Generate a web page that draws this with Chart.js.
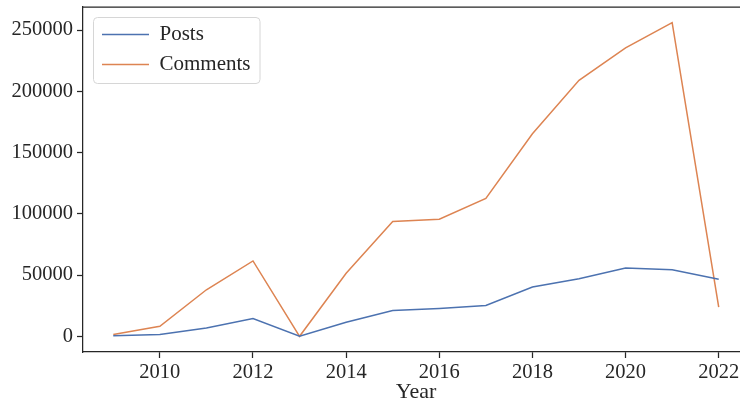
<!DOCTYPE html>
<html>
<head>
<meta charset="utf-8">
<script src="https://cdn.jsdelivr.net/npm/chart.js@4.4.1/dist/chart.umd.min.js"></script>
<style>
  html, body { margin: 0; padding: 0; background: #fff; overflow: hidden; }
  #wrap { width: 752px; height: 403px; }
</style>
</head>
<body>
<div id="wrap"><canvas id="grafico" width="752" height="403"></canvas></div>
<script>
const years = [2009, 2010, 2011, 2012, 2013, 2014, 2015, 2016, 2017, 2018, 2019, 2020, 2021, 2022];
const posts = [500, 1500, 6800, 14500, 0, 11500, 21000, 22700, 25100, 40200, 47000, 55700, 54300, 46500];
const comments = [1500, 8200, 38000, 61500, 0, 51500, 93700, 95600, 112500, 165300, 209000, 235500, 256000, 23800];
const xTicks = [2010, 2012, 2014, 2016, 2018, 2020, 2022];
const yTicks = [0, 50000, 100000, 150000, 200000, 250000];

const serif = "'Liberation Serif', 'DejaVu Serif', serif";
const ink = '#262626';

// legenda dentro do grafico, um pouco afastada do canto
const legendShift = {
    id: 'legendShift',
    afterLayout(chart) {
        const lg = chart.legend;
        const dx = 10, dy = 15;
        lg.left += dx; lg.right += dx;
        lg.top += dy; lg.bottom += dy;
        (lg.legendHitBoxes || []).forEach(b => { b.left += dx; b.top += dy; });
    }
};

// moldura da legenda + bordas de cima/direita
const frame = {
    id: 'frame',
    afterDraw(chart) {
        const ctx = chart.ctx;
        const a = chart.chartArea;
        ctx.save();
        ctx.strokeStyle = ink;
        ctx.lineWidth = 1.25;
        ctx.beginPath();
        ctx.moveTo(a.left, a.top);
        ctx.lineTo(a.right, a.top);
        ctx.lineTo(a.right, a.bottom);
        ctx.stroke();

        const boxes = chart.legend.legendHitBoxes;
        if (boxes && boxes.length) {
            const l = Math.min(...boxes.map(b => b.left)) - 19;
            const t = Math.min(...boxes.map(b => b.top)) - 7;
            const r = Math.max(...boxes.map(b => b.left + b.width)) - 1;
            const bt = Math.max(...boxes.map(b => b.top + b.height)) + 8;
            ctx.strokeStyle = '#d6d6d6';
            ctx.lineWidth = 1;
            ctx.beginPath();
            ctx.roundRect(l + 0.5, t + 0.5, r - l, bt - t, 4);
            ctx.stroke();
        }
        ctx.restore();
    }
};

const chart = new Chart(document.getElementById('grafico'), {
    type: 'line',
    data: {
        datasets: [
            {
                label: 'Posts',
                data: years.map((y, i) => ({ x: y, y: posts[i] })),
                borderColor: '#4c72b0',
                backgroundColor: '#4c72b0',
                borderWidth: 1.5,
                pointRadius: 0,
                tension: 0
            },
            {
                label: 'Comments',
                data: years.map((y, i) => ({ x: y, y: comments[i] })),
                borderColor: '#dd8452',
                backgroundColor: '#dd8452',
                borderWidth: 1.5,
                pointRadius: 0,
                tension: 0
            }
        ]
    },
    options: {
        responsive: false,
        animation: false,
        layout: { padding: { top: 7, right: 3, left: 0, bottom: 0 } },
        scales: {
            x: {
                type: 'linear',
                min: 2008.35,
                max: 2022.65,
                afterBuildTicks: s => { s.ticks = xTicks.map(v => ({ value: v })); },
                afterFit: s => { s.height = 51; s.paddingLeft = 0; s.paddingRight = 0; },
                grid: { drawOnChartArea: false, drawTicks: true, tickLength: 6, tickWidth: 1.25, tickColor: ink },
                border: { display: true, color: ink, width: 1.25 },
                ticks: {
                    color: ink,
                    padding: 2,
                    maxRotation: 0,
                    font: { family: serif, size: 20.5 },
                    callback: v => String(v)
                },
                title: {
                    display: true,
                    text: 'Year',
                    color: ink,
                    font: { family: serif, size: 22, lineHeight: 1 },
                    padding: { top: 0, bottom: 0 }
                }
            },
            y: {
                min: -12800,
                max: 268800,
                afterBuildTicks: s => { s.ticks = yTicks.map(v => ({ value: v })); },
                afterFit: s => { s.width = 83; s.paddingTop = 0; s.paddingBottom = 0; },
                grid: { drawOnChartArea: false, drawTicks: true, tickLength: 6, tickWidth: 1.25, tickColor: ink },
                border: { display: true, color: ink, width: 1.25 },
                ticks: {
                    color: ink,
                    padding: 4,
                    font: { family: serif, size: 20.5 },
                    callback: v => String(v)
                }
            }
        },
        plugins: {
            legend: {
                position: 'chartArea',
                align: 'start',
                labels: {
                    usePointStyle: true,
                    pointStyle: 'line',
                    pointStyleWidth: 47,
                    padding: 9,
                    color: ink,
                    font: { family: serif, size: 21 }
                }
            },
            tooltip: { enabled: false }
        }
    },
    plugins: [legendShift, frame]
});
</script>
</body>
</html>
